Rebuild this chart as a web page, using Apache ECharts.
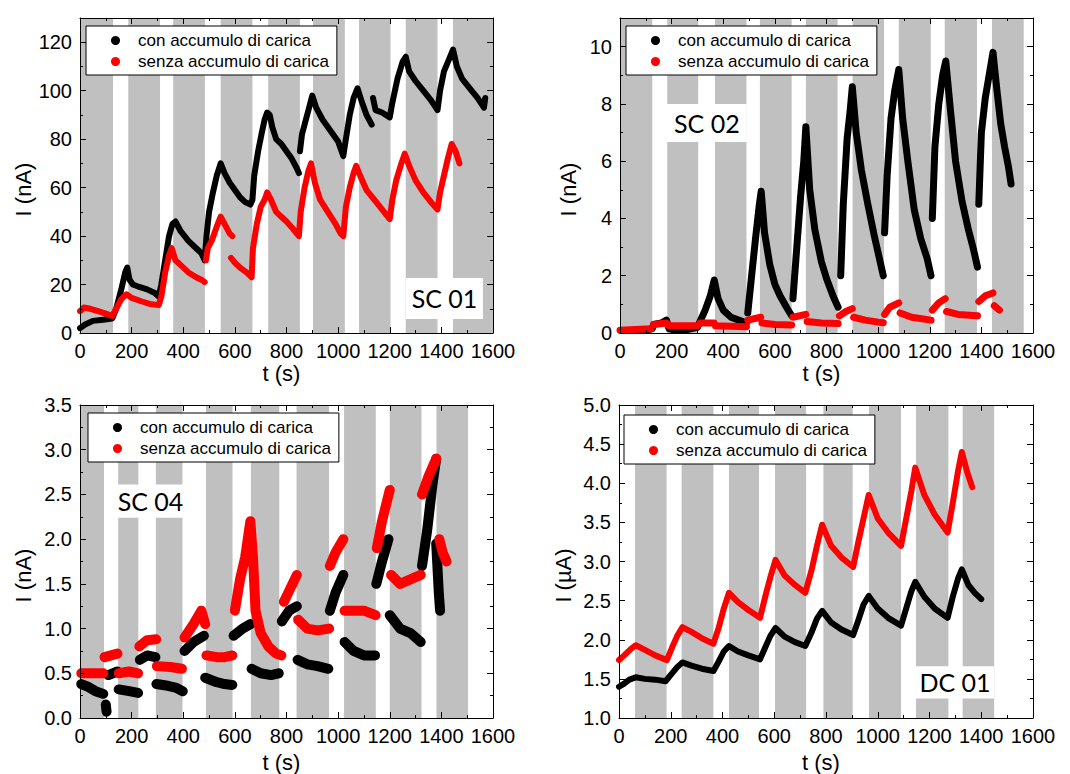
<!DOCTYPE html>
<html><head><meta charset="utf-8">
<script src="https://cdn.jsdelivr.net/npm/echarts@6/dist/echarts.min.js"></script>
<style>html,body{margin:0;padding:0;background:#fff}#c{width:1070px;height:774px}</style>
</head><body><div id="c"></div><script>
const LEG_NAMES = ['con accumulo di carica', 'senza accumulo di carica'];
const X_TICKS = [0, 200, 400, 600, 800, 1000, 1200, 1400, 1600];

// SC 01 (nA)
const sc01Con = [[0,2],[20,3.5],[50,5],[90,5.5],[125,6],[140,10],[160,18],[175,25],[183,27],[192,22],[205,20],[230,19],[260,18],[290,16.5],[305,15],[315,20],[330,30],[345,40],[358,45],[370,46],[390,42],[420,38],[450,35],[470,33],[483,30],[490,40],[500,50],[515,58],[530,65],[545,70],[560,66],[580,62],[600,59],[620,56],[640,54],[660,53],[668,55],[675,65],[690,75],[705,83],[715,88],[725,91],[735,90],[745,85],[760,80],[780,78],[800,75],[820,72],[840,68],[848,66],null,[852,75],[860,82],[875,88],[890,94],[900,98],[915,93],[940,88],[960,85],[980,82],[1000,79],[1020,73],[1030,80],[1045,90],[1060,97],[1075,101],[1090,96],[1110,90],[1130,86],null,[1135,97],[1145,92],[1170,91],[1200,89],[1210,95],[1230,105],[1250,112],[1262,114],[1275,108],[1300,104],[1330,100],[1360,96],[1385,92],[1395,100],[1410,108],[1430,113],[1445,117],[1460,110],[1480,105],[1510,101],[1540,97],[1565,93],[1570,97]];
const sc01Senza = [[0,9],[15,10.5],[40,10],[70,9],[100,8],[125,7],[140,10],[160,14],[180,16],[200,14.5],[240,13],[270,12],[305,11.5],[315,15],[330,25],[345,32],[355,35],[370,30],[390,28],[420,25],[450,23],[470,22],[483,21],null,[488,30],[495,35],[510,38],[530,44],[545,48],[560,45],[580,41],[590,40],null,[585,31],[600,29],[620,27],[645,25],[665,23],[670,35],[685,45],[700,52],[715,55],[725,58],[740,55],[760,50],[780,48],[800,46],[825,43],[848,40],[855,50],[870,60],[885,67],[895,70],[910,62],[930,55],[960,50],[990,45],[1010,41],[1020,40],[1030,52],[1045,60],[1060,66],[1070,69],[1085,65],[1110,59],[1140,55],[1170,51],[1200,47],[1210,55],[1225,63],[1245,70],[1258,74],[1275,69],[1300,63],[1330,58],[1360,54],[1385,51],[1395,58],[1410,65],[1425,72],[1440,78],[1455,75],[1470,70]];
const sc01Bands = [[0,128],[187,310],[361,484],[545,668],[729,852],[903,1026],[1081,1203],[1262,1385],[1445,1600]];

// SC 02 (nA)
const sc02Con = [[60,0.1],[100,0.1],[125,0.15],[130,0.3],[160,0.35],[180,0.45],[190,0.15],[220,0.1],[260,0.12],[300,0.2],[310,0.4],[330,0.8],[350,1.3],[365,1.85],[380,1.2],[400,0.8],[430,0.55],[460,0.45],[490,0.35],null,[495,0.7],[510,2],[525,3.3],[540,4.5],[547,4.95],[560,3.5],[580,2.4],[600,1.7],[620,1.3],[645,0.9],[665,0.6],null,[670,1.2],[685,3],[700,4.8],[712,6],[720,7.2],[735,5],[755,3.6],[780,2.5],[800,1.9],[825,1.3],[845,0.9],null,[855,2],[865,4.5],[880,6.8],[892,7.8],[900,8.6],[915,7],[935,5.7],[960,4.5],[985,3.4],[1005,2.6],[1020,2],null,[1025,3.5],[1035,5.5],[1050,7.5],[1065,8.5],[1080,9.2],[1095,7.5],[1115,6],[1140,4.3],[1165,3.3],[1190,2.6],[1205,2],null,[1210,4],[1220,6.5],[1235,8],[1250,9],[1262,9.5],[1280,7.8],[1300,6],[1325,4.6],[1350,3.6],[1370,2.9],[1385,2.3],null,[1390,4.5],[1400,7],[1415,8.2],[1430,9],[1445,9.8],[1460,8.5],[1475,7.3],[1490,6.5],[1505,5.8],[1515,5.2]];
const sc02Senza = [[0,0.1],[60,0.12],[120,0.15],null,[130,0.3],[180,0.35],[190,0.25],[300,0.25],null,[310,0.35],[365,0.35],null,[370,0.25],[490,0.22],null,[495,0.45],[545,0.55],null,[550,0.35],[600,0.3],[665,0.28],null,[670,0.55],[720,0.65],null,[725,0.4],[780,0.35],[845,0.33],null,[850,0.6],[875,0.75],[900,0.85],null,[905,0.55],[950,0.45],[1000,0.38],[1020,0.36],null,[1025,0.65],[1045,0.9],[1080,1.05],null,[1085,0.7],[1130,0.55],[1205,0.45],null,[1210,0.8],[1235,1.05],[1260,1.2],null,[1265,0.75],[1310,0.65],[1385,0.6],null,[1390,1.1],[1415,1.3],[1445,1.4],null,[1450,0.95],[1470,0.8]];
const sc02Bands = [[0,125],[183,303],[368,490],[542,665],[720,843],[901,1023],[1080,1204],[1258,1383],[1441,1564]];

// SC 04 (nA)
const sc04Con = [[5,0.38],[30,0.35],[60,0.3],[90,0.27],null,[100,0.15],[103,0.07],null,[110,0.48],[145,0.52],null,[150,0.32],[190,0.3],[225,0.28],null,[232,0.65],[260,0.7],[292,0.68],null,[296,0.38],[340,0.36],[370,0.34],[398,0.3],null,[405,0.75],[440,0.85],[480,0.92],null,[485,0.45],[530,0.4],[560,0.38],[590,0.37],null,[595,0.92],[630,1.0],[660,1.05],null,[665,0.55],[700,0.5],[740,0.48],[770,0.5],null,[782,1.08],[810,1.2],[840,1.25],null,[843,0.65],[880,0.6],[920,0.58],[962,0.55],null,[968,1.2],[990,1.4],[1020,1.6],null,[1025,0.85],[1060,0.75],[1100,0.7],[1143,0.7],null,[1148,1.5],[1170,1.75],[1195,2.0],null,[1200,1.15],[1240,1.0],[1280,0.95],[1320,0.85],null,[1325,1.7],[1345,2.1],[1365,2.6],[1380,2.9],null,[1380,1.95],[1390,1.4],[1395,1.2]];
const sc04Senza = [[5,0.5],[90,0.5],null,[95,0.68],[145,0.72],null,[150,0.5],[190,0.52],[225,0.5],null,[230,0.8],[260,0.87],[295,0.88],null,[298,0.58],[350,0.57],[395,0.55],null,[405,0.9],[440,1.05],[470,1.2],[485,1.05],null,[490,0.7],[530,0.68],[560,0.68],[590,0.7],null,[600,1.2],[620,1.55],[640,1.8],[660,2.2],[670,1.8],[680,1.2],[700,0.95],[730,0.8],[760,0.72],[780,0.7],null,[790,1.3],[815,1.45],[840,1.6],null,[845,1.1],[880,1.0],[920,0.98],[965,1.0],null,[968,1.7],[990,1.85],[1020,2.0],null,[1025,1.2],[1060,1.2],[1100,1.2],[1145,1.15],null,[1150,1.9],[1170,2.2],[1200,2.55],null,[1205,1.6],[1240,1.5],[1280,1.55],[1320,1.6],null,[1325,2.5],[1350,2.7],[1380,2.9],null,[1392,2.0],[1405,1.85],[1420,1.75]];
const sc04Bands = [[4,93],[148,226],[294,397],[488,591],[662,772],[839,965],[1023,1146],[1200,1323],[1381,1503]];

// DC 01 (µA)
const dc01Con = [[0,1.4],[20,1.44],[40,1.49],[65,1.52],[100,1.5],[140,1.49],[180,1.47],[200,1.55],[225,1.65],[245,1.71],[280,1.67],[320,1.63],[365,1.6],[385,1.72],[405,1.85],[425,1.92],[460,1.85],[500,1.8],[545,1.75],[565,1.9],[585,2.05],[605,2.15],[640,2.04],[680,1.97],[720,1.92],[745,2.1],[765,2.27],[785,2.37],[820,2.22],[860,2.13],[905,2.06],[925,2.25],[945,2.45],[965,2.56],[1000,2.4],[1040,2.28],[1090,2.18],[1110,2.4],[1130,2.62],[1145,2.74],[1180,2.55],[1220,2.4],[1270,2.28],[1290,2.55],[1310,2.78],[1325,2.9],[1350,2.7],[1375,2.6],[1400,2.52]];
const dc01Senza = [[0,1.74],[20,1.8],[45,1.88],[65,1.93],[100,1.87],[140,1.8],[185,1.74],[205,1.9],[225,2.05],[245,2.16],[280,2.1],[320,2.02],[365,1.95],[385,2.15],[405,2.4],[425,2.6],[460,2.48],[500,2.38],[545,2.28],[565,2.55],[585,2.8],[605,3.02],[640,2.82],[680,2.7],[720,2.6],[745,2.9],[765,3.2],[785,3.47],[820,3.2],[860,3.05],[905,2.93],[925,3.25],[945,3.55],[965,3.85],[1000,3.55],[1040,3.37],[1090,3.2],[1110,3.55],[1130,3.9],[1145,4.2],[1180,3.85],[1220,3.6],[1270,3.37],[1290,3.75],[1310,4.15],[1325,4.4],[1345,4.15],[1365,3.95]];
const dc01Bands = [[62,184],[242,365],[425,541],[603,723],[790,903],[966,1090],[1148,1273],[1328,1450]];

const panels = [
  {grid:{left:80,top:18,width:413,height:315}, y:[0,130,20], yName:'I (nA)', yGap:39, xGap:29,
   con:sc01Con, senza:sc01Senza, bands:sc01Bands, tag:'SC 01', tagBox:[1263,22.7,1561,5.8],
   legend:{left:86,top:26}, lw:6, fmt:v => v > 120 ? '' : String(v)},
  {grid:{left:620,top:18,width:413,height:315}, y:[0,11,2], yName:'I (nA)', yGap:41, xGap:29,
   con:sc02Con, senza:sc02Senza, bands:sc02Bands, tag:'SC 02', tagBox:[182,8.0,491,6.67],
   legend:{left:626,top:26}, lw:7, fmt:v => v > 10 ? '' : String(v)},
  {grid:{left:80,top:405,width:413,height:314}, y:[0,3.5,0.5], yName:'I (nA)', yGap:46, xGap:33,
   con:sc04Con, senza:sc04Senza, bands:sc04Bands, tag:'SC 04', tagBox:[147,2.61,399,2.24],
   legend:{left:88,top:413}, lw:10, fmt:v => v.toFixed(1)},
  {grid:{left:619,top:405,width:414,height:314}, y:[1,5,0.5], yName:'I (\u00b5A)', yGap:45, xGap:33,
   con:dc01Con, senza:dc01Senza, bands:dc01Bands, tag:'DC 01', tagBox:[1148,1.66,1449,1.25],
   legend:{left:624,top:415}, lw:6, fmt:v => v.toFixed(1)}
];

const FONT = 'Liberation Sans, Arial, sans-serif';
const BLACK = '#000';
const clean = arr => arr.map(d => d === null ? ['-','-'] : d);

const option = {animation:false, grid:[], xAxis:[], yAxis:[], legend:[], series:[]};
const baseAxis = () => ({
  type:'value', z:10, zlevel:0,
  axisLine:{show:true, onZero:false, lineStyle:{color:BLACK, width:1}},
  axisTick:{show:true, inside:true, length:6, lineStyle:{color:BLACK, width:1}},
  minorTick:{show:true, splitNumber:2, length:3, lineStyle:{color:BLACK, width:1}},
  splitLine:{show:false},
  axisLabel:{color:BLACK, fontSize:20, fontFamily:FONT, margin:8}
});

panels.forEach((p, i) => {
  option.grid.push(Object.assign({}, p.grid));
  const xb = baseAxis();
  Object.assign(xb, {gridIndex:i, position:'bottom', min:X_TICKS[0], max:X_TICKS[X_TICKS.length-1], interval:X_TICKS[1]-X_TICKS[0],
    name:'t (s)', nameLocation:'middle', nameGap:p.xGap,
    nameTextStyle:{color:BLACK, fontSize:22, fontFamily:FONT, padding:[0,10,0,0]}});
  xb.axisLabel.interval = 0;
  xb.axisLabel.formatter = v => String(v);
  const xt = baseAxis();
  Object.assign(xt, {gridIndex:i, position:'top', min:X_TICKS[0], max:X_TICKS[X_TICKS.length-1], interval:X_TICKS[1]-X_TICKS[0]});
  xt.axisLabel = {show:false};
  const yl = baseAxis();
  Object.assign(yl, {gridIndex:i, position:'left', min:p.y[0], max:p.y[1], interval:p.y[2],
    name:p.yName, nameLocation:'middle', nameGap:p.yGap,
    nameTextStyle:{color:BLACK, fontSize:22, fontFamily:FONT, padding:[0,28,0,0]}});
  yl.axisLabel.formatter = p.fmt;
  const yr = baseAxis();
  Object.assign(yr, {gridIndex:i, position:'right', min:p.y[0], max:p.y[1], interval:p.y[2]});
  yr.axisLabel = {show:false};
  option.xAxis.push(xb, xt);
  option.yAxis.push(yl, yr);

  const areas = p.bands.map(b => [{xAxis:b[0], itemStyle:{color:'#c0c0c0', opacity:1}}, {xAxis:b[1]}]);
  areas.push([{xAxis:p.tagBox[0], yAxis:p.tagBox[1], itemStyle:{color:'#ffffff', opacity:1},
    label:{show:true, position:'inside', formatter:p.tag, color:BLACK, fontSize:25, fontFamily:'Lato, sans-serif'}},
    {xAxis:p.tagBox[2], yAxis:p.tagBox[3]}]);
  option.series.push({type:'line', xAxisIndex:2*i, yAxisIndex:2*i, data:[], silent:true, z:0, zlevel:-1,
    markArea:{silent:true, z:0, zlevel:-1, label:{show:false}, data:areas}});
  option.series.push({type:'line', name:LEG_NAMES[0], xAxisIndex:2*i, yAxisIndex:2*i, data:clean(p.con),
    symbol:'none', showSymbol:false, connectNulls:false, z:3,
    lineStyle:{color:BLACK, width:p.lw, join:'round', cap:'round'}, itemStyle:{color:BLACK}});
  option.series.push({type:'line', name:LEG_NAMES[1], xAxisIndex:2*i, yAxisIndex:2*i, data:clean(p.senza),
    symbol:'none', showSymbol:false, connectNulls:false, z:3,
    lineStyle:{color:'#ff0000', width:p.lw, join:'round', cap:'round'}, itemStyle:{color:'#ff0000'}});
  option.legend.push({left:p.legend.left, top:p.legend.top, orient:'vertical', icon:'circle',
    itemWidth:9, itemHeight:9, itemGap:4, padding:[6,8,5,25], borderColor:BLACK, borderWidth:1, borderRadius:0,
    backgroundColor:'#fff', selectedMode:false, z:12,
    textStyle:{fontSize:17, lineHeight:17, fontFamily:FONT, color:BLACK, padding:[0,0,0,13]},
    data:LEG_NAMES.slice()});
});

const chart = echarts.init(document.getElementById('c'), null, {renderer:'svg'});
chart.setOption(option);
</script></body></html>
